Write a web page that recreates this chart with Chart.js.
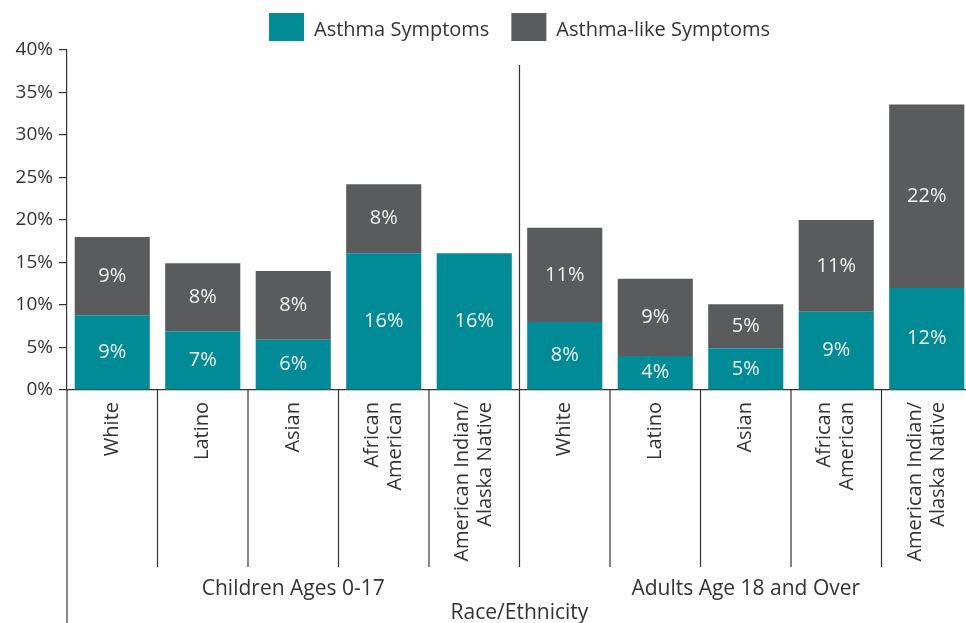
<!DOCTYPE html>
<html>
<head>
<meta charset="utf-8">
<script src="https://cdn.jsdelivr.net/npm/chart.js@4.4.0/dist/chart.umd.min.js"></script>
<style>
  html, body { margin: 0; padding: 0; background: #fff; overflow: hidden; }
  #wrap { width: 972px; height: 623px; position: relative; }
</style>
</head>
<body>
<div id="wrap"><canvas id="asthmaChart"></canvas></div>
<script>
var categories = [
  ['White'], ['Latino'], ['Asian'], ['African', 'American'], ['American Indian/', 'Alaska Native'],
  ['White'], ['Latino'], ['Asian'], ['African', 'American'], ['American Indian/', 'Alaska Native']
];
var groups = ['Children Ages 0-17', 'Adults Age 18 and Over'];
var groupSize = [5, 5];
var asthmaSymptoms = [8.8, 6.9, 5.9, 16.1, 16.1, 8.0, 4.0, 4.9, 9.2, 12.0];
var asthmaLikeSymptoms = [9.2, 8.0, 8.1, 8.1, 0, 11.1, 9.1, 5.2, 10.8, 21.6];
var seriesNames = ['Asthma Symptoms', 'Asthma-like Symptoms'];

var TEAL = '#008b96';
var GRAY = '#5a5b5d';
var INK = '#333333';
var FONT = '"Open Sans"';

document.addEventListener('DOMContentLoaded', function() {
  var ctx = document.getElementById('asthmaChart').getContext('2d');

  // nudge the legend up so the boxes sit just above the plot
  var legendShift = {
    id: 'legendShift',
    afterLayout: function(chart) {
      var lg = chart.legend;
      lg.top -= 9;
      lg.bottom -= 9;
      (lg.legendHitBoxes || []).forEach(function(h) { h.top -= 9; });
    }
  };

  // white % labels inside each bar segment
  var valueLabels = {
    id: 'valueLabels',
    afterDatasetsDraw: function(chart) {
      var c = chart.ctx;
      c.save();
      c.font = '20px ' + FONT;
      c.fillStyle = '#f2f2f2';
      c.textAlign = 'center';
      c.textBaseline = 'middle';
      chart.data.datasets.forEach(function(ds, di) {
        var meta = chart.getDatasetMeta(di);
        meta.data.forEach(function(bar, i) {
          var v = ds.data[i];
          if (!v) return;
          c.fillText(Math.round(v) + '%', bar.x, (bar.y + bar.base) / 2);
        });
      });
      c.restore();
    }
  };

  // rotated category labels, separators, group labels, axis extension
  var categoryAxis = {
    id: 'categoryAxis',
    afterDraw: function(chart) {
      var c = chart.ctx;
      var x = chart.scales.x;
      var area = chart.chartArea;
      var half = (x.getPixelForValue(1) - x.getPixelForValue(0)) / 2;
      var sepBottom = area.bottom + 177;
      c.save();
      c.strokeStyle = INK;
      c.lineWidth = 1.2;

      // y axis runs down past the labels
      c.beginPath();
      c.moveTo(area.left, area.bottom);
      c.lineTo(area.left, chart.height);
      c.stroke();

      var idx = 0;
      groupSize.forEach(function(n, g) {
        for (var k = 0; k < n; k++) {
          var i = idx + k;
          if (i > 0) {
            var bx = x.getPixelForValue(i) - half;
            var top = (k === 0) ? area.top + 15 : area.bottom;
            c.beginPath();
            c.moveTo(bx, top);
            c.lineTo(bx, sepBottom);
            c.stroke();
          }
        }
        // group label
        var gx = (x.getPixelForValue(idx) - half + x.getPixelForValue(idx + n - 1) + half) / 2;
        c.fillStyle = INK;
        c.font = '21px ' + FONT;
        c.textAlign = 'center';
        c.textBaseline = 'middle';
        c.fillText(groups[g], gx, area.bottom + 199);
        idx += n;
      });

      // rotated tick labels
      c.fillStyle = INK;
      c.font = '20px ' + FONT;
      c.textAlign = 'right';
      c.textBaseline = 'middle';
      var lh = 23;
      categories.forEach(function(lines, i) {
        var px = x.getPixelForValue(i);
        c.save();
        c.translate(px, area.bottom + 12);
        c.rotate(-Math.PI / 2);
        lines.forEach(function(t, j) {
          c.fillText(t, 0, (j - (lines.length - 1) / 2) * lh);
        });
        c.restore();
      });
      c.restore();
    }
  };

  var data = {
    labels: categories.map(function(l) { return l.join(' '); }),
    datasets: [{
      label: seriesNames[0],
      data: asthmaSymptoms,
      backgroundColor: TEAL,
      barPercentage: 0.83,
      categoryPercentage: 1
    }, {
      label: seriesNames[1],
      data: asthmaLikeSymptoms,
      backgroundColor: GRAY,
      barPercentage: 0.83,
      categoryPercentage: 1
    }]
  };

  var options = {
    responsive: true,
    maintainAspectRatio: false,
    animation: false,
    plugins: {
      legend: {
        position: 'top',
        fullSize: false,
        maxHeight: 50,
        labels: {
          boxWidth: 35,
          boxHeight: 35,
          padding: 22,
          color: INK,
          font: { family: FONT, size: 20 }
        }
      },
      tooltip: { enabled: false }
    },
    scales: {
      x: {
        stacked: true,
        grid: { display: false, drawTicks: false },
        border: { display: true, color: INK, width: 1.2 },
        ticks: { display: false },
        title: {
          display: true,
          text: 'Race/Ethnicity',
          color: INK,
          padding: { top: 0, bottom: -3 },
          font: { family: FONT, size: 21 }
        },
        afterFit: function(scale) { scale.height = 233; }
      },
      y: {
        stacked: true,
        min: 0,
        max: 40,
        grid: { drawOnChartArea: false, drawTicks: true, tickLength: 8, color: INK, lineWidth: 1.2 },
        border: { display: true, color: INK, width: 1.2 },
        ticks: {
          stepSize: 5,
          padding: 6,
          color: INK,
          font: { family: FONT, size: 19 },
          callback: function(v) { return v + '%'; }
        },
        afterFit: function(scale) { scale.width = 67; }
      }
    }
  };

  new Chart(ctx, {
    type: 'bar',
    data: data,
    options: options,
    plugins: [legendShift, valueLabels, categoryAxis]
  });
});
</script>
</body>
</html>
